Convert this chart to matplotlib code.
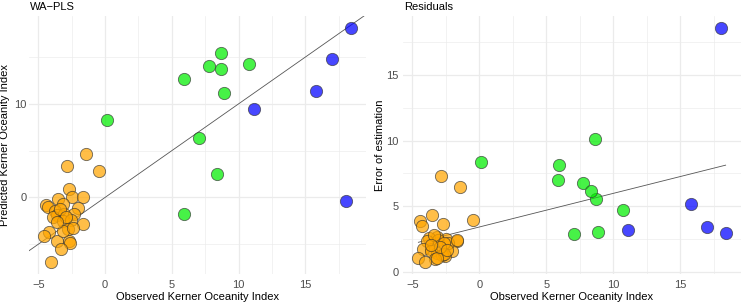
import numpy as np
import matplotlib
matplotlib.use("Agg")
import matplotlib.pyplot as plt
from matplotlib.ticker import MultipleLocator

plt.rcParams['font.family'] = ['Liberation Sans', 'DejaVu Sans']

# observed index, WA-PLS prediction and error of estimation, per group
orange_obs = [-1.43, -2.85, -0.47, -2.72, -2.48, -1.67, -3.55, -3.17, -4.42, -4.30,
              -2.05, -3.72, -3.62, -3.05, -2.30, -3.92, -3.17, -2.55, -1.67, -2.80,
              -4.17, -4.55, -3.62, -2.67, -2.62, -3.30, -4.05, -3.17, -3.40, -2.90,
              -3.60, -2.40]
orange_pred = [4.61, 3.36, 2.80, 0.90, 0.04, 0.10, -0.14, -0.68, -0.86, -0.97,
               -1.11, -1.40, -1.86, -1.75, -1.75, -2.11, -2.54, -2.46, -2.82, -3.36,
               -3.71, -4.07, -4.61, -4.68, -4.89, -5.50, -6.93, -3.54, -1.20, -2.10,
               -2.60, -3.30]
orange_err = [6.46, 7.32, 4.00, 3.66, 2.50, 2.40, 4.34, 2.70, 3.91, 3.54,
              1.64, 2.60, 1.80, 2.45, 2.20, 2.40, 1.50, 1.20, 2.44, 1.30,
              1.80, 1.06, 1.60, 2.20, 1.40, 1.00, 0.76, 1.10, 2.80, 1.90,
              2.10, 1.70]

green_obs = [8.68, 7.75, 8.70, 10.75, 5.93, 8.88, 0.15, 7.05, 8.38, 5.90]
green_pred = [15.39, 14.04, 13.71, 14.25, 12.64, 11.11, 8.32, 6.39, 2.50, -1.79]
green_err = [10.08, 6.74, 5.56, 4.72, 8.13, 3.08, 8.38, 2.88, 6.19, 7.00]

blue_obs = [18.40, 17.00, 15.83, 11.13, 18.03]
blue_pred = [18.14, 14.75, 11.39, 9.50, -0.43]
blue_err = [3.00, 3.43, 5.15, 3.18, 18.56]

groups = [(orange_obs, orange_pred, orange_err, 'orange'),
          (green_obs, green_pred, green_err, '#00ee00'),
          (blue_obs, blue_pred, blue_err, '#0000ff')]

W, H = 742, 303
fig = plt.figure(figsize=(W / 100, H / 100), dpi=100)
ax1 = fig.add_axes([29 / W, 29 / H, 337 / W, 258 / H])
ax2 = fig.add_axes([403 / W, 29 / H, 338 / W, 258 / H])

grid_col = '#ebebeb'
for ax in (ax1, ax2):
    ax.set_axisbelow(True)
    for s in ax.spines.values():
        s.set_visible(False)
    ax.tick_params(which='both', length=0, labelsize=8, labelcolor='#4d4d4d', pad=4)
    ax.grid(True, which='major', color=grid_col, lw=0.9)
    ax.grid(True, which='minor', color=grid_col, lw=0.45)
    ax.xaxis.set_major_locator(MultipleLocator(5))
    ax.xaxis.set_minor_locator(MultipleLocator(2.5))
ax1.tick_params(axis='y', pad=1.5)
ax2.tick_params(axis='y', pad=3)

# left panel: predicted vs observed with 1:1 line
for obs, pred, err, col in groups:
    ax1.scatter(obs, pred, s=78, c=col, alpha=0.72, edgecolors='#333333', linewidths=0.6, zorder=3)
ax1.axline((0, 0), slope=1, color='#555555', lw=0.6, zorder=2)
ax1.yaxis.set_major_locator(MultipleLocator(10))
ax1.yaxis.set_minor_locator(MultipleLocator(5))
ax1.margins(0.05)

# right panel: error of estimation with linear fit
all_obs, all_err = [], []
for obs, pred, err, col in groups:
    ax2.scatter(obs, err, s=78, c=col, alpha=0.72, edgecolors='#333333', linewidths=0.6, zorder=3)
    all_obs += obs
    all_err += err
b, a = np.polyfit(all_obs, all_err, 1)
xs = np.array([min(all_obs), max(all_obs)])
ax2.plot(xs, a + b * xs, color='#555555', lw=0.6, zorder=2)
ax2.yaxis.set_major_locator(MultipleLocator(5))
ax2.yaxis.set_minor_locator(MultipleLocator(2.5))
ax2.margins(0.05)

ax1.set_xlabel('Observed Kerner Oceanity Index', fontsize=8, labelpad=2)
ax1.set_ylabel('Predicted Kerner Oceanity Index', fontsize=8)
ax1.yaxis.set_label_coords(-19 / 337, 0.5)
ax2.set_xlabel('Observed Kerner Oceanity Index', fontsize=8, labelpad=2)
ax2.set_ylabel('Error of estimation', fontsize=8)
ax2.yaxis.set_label_coords(-18 / 338, 0.5)

fig.text(30 / W, 1 - 6.5 / H, 'WA\u2212PLS', fontsize=8, ha='left', va='center')
fig.text(404 / W, 1 - 6.5 / H, 'Residuals', fontsize=8, ha='left', va='center')

fig.savefig('out.png', dpi=100)
